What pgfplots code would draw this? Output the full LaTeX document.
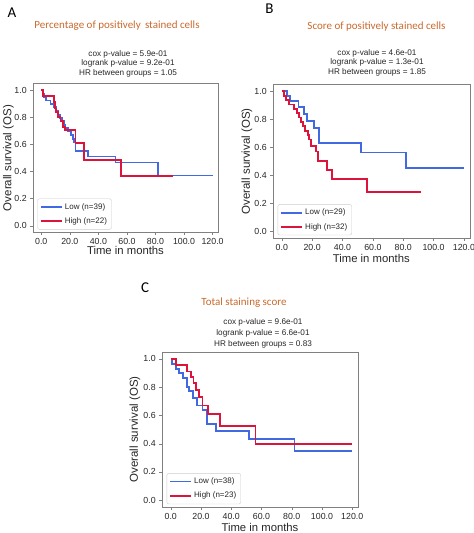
\documentclass[border=0pt]{standalone}
\usepackage{pgfplots}
\pgfplotsset{compat=1.18}
\usepackage{fontspec}
\setmainfont{Liberation Sans}
\newfontfamily\calfont{Carlito}
\definecolor{kmblue}{RGB}{65,105,225}
\definecolor{kmred}{RGB}{220,20,60}
\definecolor{ttl}{RGB}{200,105,45}
\pgfplotsset{km/.style={
  scale only axis, anchor=south west,
  xmin=-6, xmax=124, ymin=-0.05, ymax=1.05,
  xtick={0,20,40,60,80,100,120},
  ytick={0,0.2,0.4,0.6,0.8,1.0},
  /pgf/number format/assume math mode=true,
  xticklabel style={/pgf/number format/.cd, fixed, fixed zerofill, precision=1},
  yticklabel style={/pgf/number format/.cd, fixed, fixed zerofill, precision=1},
  ticklabel style={font=\fontsize{8.8}{10}\selectfont, text=black!85},
  axis line style={black!50},
  tick style={black!50},
  tick align=outside, major tick length=2.5pt, tick pos=left,
  legend style={at={(0.025,0.02)}, anchor=south west,
    font=\fontsize{8}{9.5}\selectfont, draw=black!20, rounded corners=2pt,
    row sep=3pt, inner sep=2.5pt, text=black!85},
  legend cell align=left,
  legend image code/.code={\draw[line width=1.9pt] (0pt,0pt) -- (21pt,0pt);},
}}
\begin{document}
\begin{tikzpicture}
\path[use as bounding box] (0,0) rectangle (474pt,-533pt);
% ---------- Panel A ----------
\node[font=\calfont\fontsize{15}{15}\selectfont] at (12pt,-13pt) {A};
\node[font=\calfont\fontsize{11}{12}\selectfont, text=ttl] at (117pt,-26pt) {Percentage of positively\, stained cells};
\node[align=center, font=\fontsize{8.2}{9.6}\selectfont, text=black!85] at (128pt,-63.5pt) {cox p-value = 5.9e-01\\logrank p-value = 9.2e-01\\HR between groups = 1.05};
\node[rotate=90, font=\fontsize{11.5}{12}\selectfont, text=black!85] at (8.5pt,-158pt) {Overall survival (OS)};
\node[font=\fontsize{11.3}{12}\selectfont, text=black!85] at (125.5pt,-250pt) {Time in months};
\begin{axis}[km, at={(32.7pt,-232.5pt)}, width=185.6pt, height=149.2pt]
\addplot[const plot, no marks, line width=1.9pt, kmblue] coordinates {(0,1.0) (1,0.974) (2,0.949) (3.5,0.923) (6.5,0.897) (9,0.872) (10.5,0.846) (12,0.82) (13,0.795) (14.5,0.77) (16,0.744) (17,0.718) (18.5,0.70) (21,0.667) (22,0.64) (23,0.615) (24,0.553) (32.7,0.51) (52,0.466) (81.5,0.37) (120,0.37)};
\addlegendentry{Low (n=39)}
\addplot[const plot, no marks, line width=1.9pt, kmred] coordinates {(0,1.0) (1,0.955) (8.8,0.91) (9.5,0.864) (10.2,0.84) (11.8,0.80) (13.5,0.77) (15.3,0.73) (16.5,0.705) (24,0.607) (30,0.485) (56,0.365) (92,0.365)};
\addlegendentry{High (n=22)}
\end{axis}
% ---------- Panel B ----------
\node[font=\calfont\fontsize{15}{15}\selectfont] at (269.5pt,-9pt) {B};
\node[font=\calfont\fontsize{11}{12}\selectfont, text=ttl] at (376.5pt,-27pt) {Score of positively stained cells};
\node[align=center, font=\fontsize{8.2}{9.6}\selectfont, text=black!85] at (377pt,-62.5pt) {cox p-value = 4.6e-01\\logrank p-value = 1.3e-01\\HR between groups = 1.85};
\node[rotate=90, font=\fontsize{11.5}{12}\selectfont, text=black!85] at (247pt,-161.3pt) {Overall survival (OS)};
\node[font=\fontsize{11.3}{12}\selectfont, text=black!85] at (371.3pt,-258.5pt) {Time in months};
\begin{axis}[km, at={(272.7pt,-238.3pt)}, width=197.3pt, height=154pt]
\addplot[const plot, no marks, line width=1.9pt, kmblue] coordinates {(0,1.0) (3.3,0.965) (5.5,0.93) (11,0.885) (14.4,0.84) (16.6,0.79) (21,0.74) (24.3,0.63) (52,0.563) (81.8,0.45) (120,0.45)};
\addlegendentry{Low (n=29)}
\addplot[const plot, no marks, line width=1.9pt, kmred] coordinates {(0,1.0) (1.5,0.969) (3,0.938) (5,0.906) (8,0.875) (10,0.844) (11.5,0.813) (12.5,0.781) (14,0.75) (15.5,0.719) (17,0.688) (18,0.656) (19,0.61) (22.8,0.57) (23.9,0.50) (29.8,0.44) (33,0.375) (56.3,0.28) (92,0.28)};
\addlegendentry{High (n=32)}
\end{axis}
% ---------- Panel C ----------
\node[font=\calfont\fontsize{15}{15}\selectfont] at (145pt,-288pt) {C};
\node[font=\calfont\fontsize{11}{12}\selectfont, text=ttl] at (244pt,-303pt) {Total staining score};
\node[align=center, font=\fontsize{8.2}{11}\selectfont, text=black!85] at (263pt,-333pt) {cox p-value = 9.6e-01\\logrank p-value = 6.6e-01\\HR between groups = 0.83};
\node[rotate=90, font=\fontsize{11.5}{12}\selectfont, text=black!85] at (135pt,-429.5pt) {Overall survival (OS)};
\node[font=\fontsize{11.3}{12}\selectfont, text=black!85] at (260pt,-527pt) {Time in months};
\begin{axis}[km, at={(161.7pt,-507.3pt)}, width=196.6pt, height=155.6pt]
\addplot[const plot, no marks, line width=1.9pt, kmblue] coordinates {(0,1.0) (1.1,0.964) (3.3,0.93) (5.5,0.9) (7.8,0.865) (10.7,0.8) (12.2,0.77) (14.4,0.72) (17.3,0.67) (21,0.64) (24,0.54) (30,0.49) (51.8,0.435) (81.8,0.35) (120,0.35)};
\addlegendentry{Low (n=38)}
\addplot[const plot, no marks, line width=1.9pt, kmred] coordinates {(0,1.0) (3.3,0.955) (10.7,0.91) (13.3,0.87) (15,0.83) (16.7,0.78) (18.9,0.73) (21,0.67) (24.4,0.61) (32.7,0.525) (56,0.40) (120,0.40)};
\addlegendentry{High (n=23)}
\end{axis}
\end{tikzpicture}
\end{document}
